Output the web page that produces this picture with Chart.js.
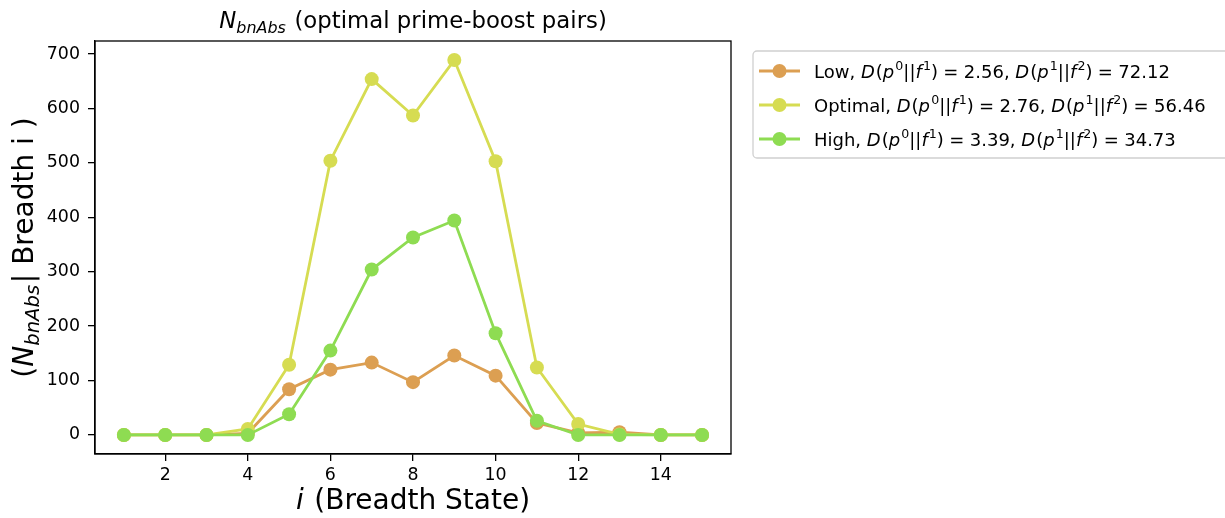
<!DOCTYPE html>
<html>
<head>
<meta charset="utf-8">
<script src="https://cdn.jsdelivr.net/npm/chart.js@4/dist/chart.umd.min.js"></script>
<style>
  html, body { margin: 0; padding: 0; background: #fff; }
  #wrap { width: 1225px; height: 518px; }
</style>
</head>
<body>
<div id="wrap"><canvas id="chart" width="1225" height="518"></canvas></div>
<script>
// data
var states = [1, 2, 3, 4, 5, 6, 7, 8, 9, 10, 11, 12, 13, 14, 15];
var low     = [0, 0, 0, 3, 84, 120, 133, 97, 146, 109, 22, 4, 5, 0, 0];
var optimal = [0, 0, 0, 11, 129, 504, 654, 587, 689, 503, 124, 20, 1, 0, 0];
var high    = [0, 0, 0, 0, 38, 155, 304, 363, 394, 187, 26, 0, 0, 0, 0];

var seriesNames = ['Low', 'Optimal', 'High'];
var d01 = ['2.56', '2.76', '3.39'];
var d12 = ['72.12', '56.46', '34.73'];
var colors = ['#dc9f52', '#d6dc52', '#8edc52'];

var xTicks = [2, 4, 6, 8, 10, 12, 14];
var yTicks = [0, 100, 200, 300, 400, 500, 600, 700];

var FONT = '"DejaVu Sans", sans-serif';

// tiny mathtext-ish renderer: $...$ -> italic letters, ^ sup, _ sub
function parseRich(src) {
  var runs = [], math = false;
  for (var i = 0; i < src.length; i++) {
    var c = src[i];
    if (c === '$') { math = !math; continue; }
    if (!math) { runs.push({t: c, it: false, sc: 1, sh: 0, pad: 0}); continue; }
    if (c === '^' || c === '_') {
      var grp;
      if (src[i + 1] === '{') { var j = src.indexOf('}', i); grp = src.slice(i + 2, j); i = j; }
      else { grp = src[i + 1]; i++; }
      for (var k = 0; k < grp.length; k++) {
        runs.push({t: grp[k], it: /[A-Za-z]/.test(grp[k]), sc: 0.7, sh: c === '^' ? -0.4 : 0.2, pad: 0});
      }
      continue;
    }
    if (c === ' ') continue;
    if (c === '=') { runs.push({t: c, it: false, sc: 1, sh: 0, pad: 0.3}); continue; }
    runs.push({t: c, it: /[A-Za-z]/.test(c), sc: 1, sh: 0, pad: 0});
  }
  // merge neighbours with same style
  var out = [];
  runs.forEach(function (r) {
    var l = out[out.length - 1];
    if (l && l.it === r.it && l.sc === r.sc && l.sh === r.sh && !l.pad && !r.pad) l.t += r.t;
    else out.push(Object.assign({}, r));
  });
  // small italic correction before upright / raised text
  out.forEach(function (r, i) {
    var n = out[i + 1];
    r.after = (r.it && n && !n.it) ? 0.06 : 0;
  });
  return out;
}

function drawRich(ctx, src, x, y, size, align) {
  var runs = parseRich(src);
  var total = 0;
  runs.forEach(function (r) {
    ctx.font = (r.it ? 'italic ' : '') + (size * r.sc) + 'px ' + FONT;
    r.w = ctx.measureText(r.t).width + (2 * r.pad + r.after) * size;
    total += r.w;
  });
  var cx = align === 'center' ? x - total / 2 : x;
  ctx.textBaseline = 'alphabetic';
  ctx.textAlign = 'left';
  runs.forEach(function (r) {
    ctx.font = (r.it ? 'italic ' : '') + (size * r.sc) + 'px ' + FONT;
    ctx.fillText(r.t, cx + r.pad * size, y + r.sh * size);
    cx += r.w;
  });
}

var decor = {
  id: 'decor',
  afterDraw: function (chart) {
    var ctx = chart.ctx, a = chart.chartArea;
    ctx.save();
    ctx.fillStyle = '#000';
    // frame
    ctx.strokeStyle = '#000';
    ctx.lineWidth = 1.3;
    ctx.strokeRect(a.left, a.top, a.right - a.left, a.bottom - a.top);
    // title and axis labels
    drawRich(ctx, '$N_{bnAbs}$ (optimal prime-boost pairs)', (a.left + a.right) / 2, 28, 22.8, 'center');
    drawRich(ctx, '$i$ (Breadth State)', (a.left + a.right) / 2, 509, 28, 'center');
    ctx.save();
    ctx.translate(33, (a.top + a.bottom) / 2);
    ctx.rotate(-Math.PI / 2);
    drawRich(ctx, '($N_{bnAbs}$| Breadth i )', 0, 0, 28, 'center');
    ctx.restore();
    // legend
    var lx = 753, ly = 51, lw = 500, lh = 107;
    ctx.beginPath();
    ctx.roundRect(lx, ly, lw, lh, 4);
    ctx.fillStyle = 'rgba(255,255,255,0.8)';
    ctx.fill();
    ctx.strokeStyle = '#d0d0d0';
    ctx.lineWidth = 1.3;
    ctx.stroke();
    var rows = [71, 105, 139];
    seriesNames.forEach(function (n, i) {
      var yy = rows[i];
      ctx.strokeStyle = colors[i];
      ctx.lineWidth = 2.8;
      ctx.beginPath(); ctx.moveTo(759, yy); ctx.lineTo(800, yy); ctx.stroke();
      ctx.fillStyle = colors[i];
      ctx.beginPath(); ctx.arc(779.5, yy, 7, 0, Math.PI * 2); ctx.fill();
      ctx.fillStyle = '#000';
      var label = n + ', $D(p^0||f^1) = ' + d01[i] + '$, $D(p^1||f^2) = ' + d12[i] + '$';
      drawRich(ctx, label, 814, yy + 6.5, 18, 'left');
    });
    ctx.restore();
  }
};

function pts(arr) {
  return states.map(function (s, i) { return {x: s, y: arr[i]}; });
}

var series = [low, optimal, high];
var ctx = document.getElementById('chart').getContext('2d');
var chart = new Chart(ctx, {
  type: 'line',
  data: {
    datasets: series.map(function (arr, i) {
      return {
        label: seriesNames[i],
        data: pts(arr),
        borderColor: colors[i],
        backgroundColor: colors[i],
        borderWidth: 2.8,
        pointRadius: 7,
        pointBorderWidth: 0,
        pointHoverRadius: 7,
        tension: 0,
        fill: false,
        order: 2 - i
      };
    })
  },
  options: {
    responsive: false,
    animation: false,
    devicePixelRatio: 1,
    layout: { padding: { left: 0, top: 41, right: 494, bottom: 0 } },
    plugins: { legend: { display: false }, title: { display: false }, tooltip: { enabled: false } },
    scales: {
      x: {
        type: 'linear',
        min: 0.3,
        max: 15.7,
        afterFit: function (s) { s.height = 64; },
        afterBuildTicks: function (s) { s.ticks = xTicks.map(function (v) { return {value: v}; }); },
        grid: { display: true, drawOnChartArea: false, drawTicks: true, tickLength: 7, color: '#000', lineWidth: 1.3 },
        border: { display: true, color: '#000', width: 1.3 },
        ticks: { color: '#000', font: { family: FONT, size: 17.4 }, padding: 4, maxRotation: 0 }
      },
      y: {
        type: 'linear',
        min: -35,
        max: 724,
        afterFit: function (s) { s.width = 95; },
        afterBuildTicks: function (s) { s.ticks = yTicks.map(function (v) { return {value: v}; }); },
        grid: { display: true, drawOnChartArea: false, drawTicks: true, tickLength: 7, color: '#000', lineWidth: 1.3 },
        border: { display: true, color: '#000', width: 1.3 },
        ticks: { color: '#000', font: { family: FONT, size: 17.4 }, padding: 8 }
      }
    }
  },
  plugins: [decor]
});
</script>
</body>
</html>
